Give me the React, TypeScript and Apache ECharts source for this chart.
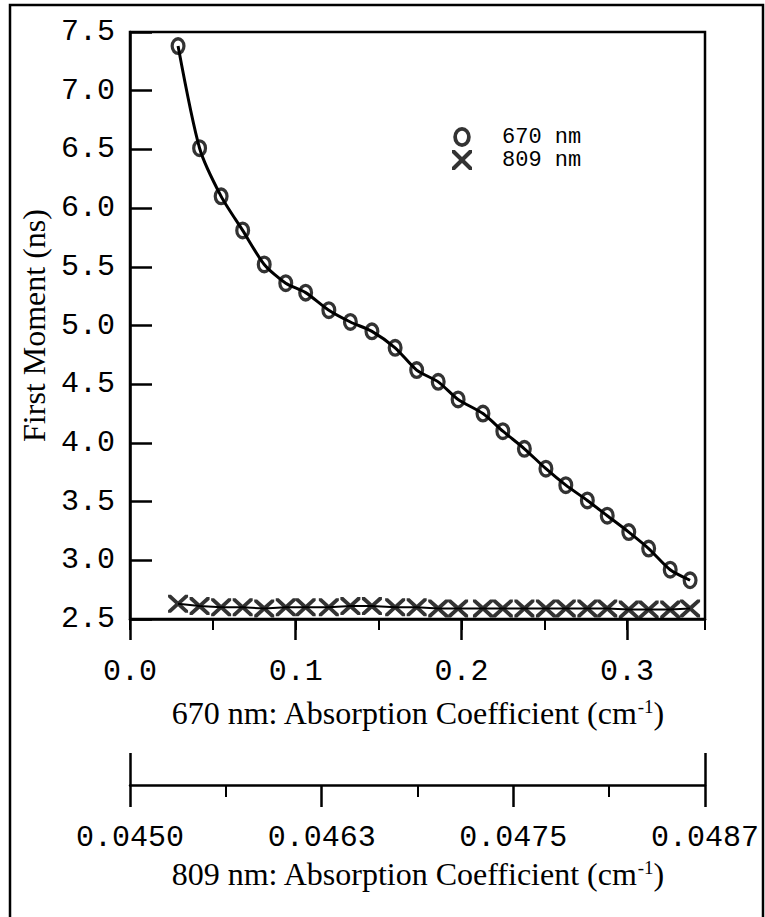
import React, { useEffect, useRef } from "react";
import * as echarts from "echarts";

// Absorption coefficient at 670 nm (cm^-1), shared by both series
const absorption670 = [
  0.029, 0.042, 0.055, 0.068, 0.081, 0.094, 0.106, 0.12, 0.133, 0.146, 0.16, 0.173, 0.186,
  0.198, 0.213, 0.225, 0.238, 0.251, 0.263, 0.276, 0.288, 0.301, 0.313, 0.326, 0.338,
];
// First moment (ns), 670 nm
const moment670 = [
  7.38, 6.51, 6.1, 5.81, 5.52, 5.36, 5.28, 5.13, 5.03, 4.95, 4.81, 4.62, 4.52, 4.37, 4.25,
  4.1, 3.95, 3.78, 3.64, 3.51, 3.38, 3.24, 3.1, 2.92, 2.83,
];
// First moment (ns), 809 nm
const moment809 = [
  2.63, 2.61, 2.6, 2.6, 2.59, 2.6, 2.6, 2.6, 2.61, 2.61, 2.6, 2.6, 2.59, 2.59, 2.59, 2.59,
  2.59, 2.59, 2.59, 2.59, 2.59, 2.58, 2.58, 2.58, 2.59,
];
const majorTicks670 = [0, 0.1, 0.2, 0.3];
const axis809Labels = ["0.0450", "0.0463", "0.0475", "0.0487"];
const legendNames = ["670 nm", "809 nm"];

const RING =
  "path://M0,8A7,8,0,1,1,14,8A7,8,0,1,1,0,8ZM3,8A4,5,0,1,0,11,8A4,5,0,1,0,3,8Z";
const CROSS =
  "path://M0,0L2.9,0L10,7.1L17.1,0L20,0L20,2.9L12.9,10L20,17.1L20,20L17.1,20L10,12.9L2.9,20L0,20L0,17.1L7.1,10L0,2.9Z";

const MONO = "'Liberation Mono', 'Courier New', monospace";
const SERIF = "'Liberation Serif', 'Times New Roman', serif";

export default function App() {
  const ref = useRef<HTMLDivElement>(null);

  useEffect(() => {
    if (!ref.current) return;
    const chart = echarts.init(ref.current, undefined, { renderer: "svg" });
    const pairs670 = absorption670.map((x, i) => [x, moment670[i]]);
    const pairs809 = absorption670.map((x, i) => [x, moment809[i]]);
    const black = "#000";

    const supRich = {
      sup: { fontFamily: SERIF, fontSize: 19, color: black, verticalAlign: "top" },
    };

    chart.setOption({
      animation: false,
      backgroundColor: "#fff",
      graphic: [
        {
          type: "rect",
          silent: true,
          z: -10,
          shape: { x: 10, y: 5, width: 753, height: 940 },
          style: { fill: "none", stroke: black, lineWidth: 2.5 },
        },
      ],
      grid: {
        left: 130,
        right: 60,
        top: 32,
        bottom: 298,
        show: true,
        borderColor: black,
        borderWidth: 2.5,
        backgroundColor: "transparent",
      },
      legend: {
        data: [
          { name: legendNames[0], icon: RING },
          { name: legendNames[1], icon: CROSS },
        ],
        orient: "vertical",
        left: 447,
        top: 121,
        itemWidth: 20,
        itemHeight: 20,
        itemGap: 1,
        selectedMode: false,
        itemStyle: { color: black, borderWidth: 0 },
        textStyle: {
          fontFamily: MONO,
          fontSize: 22,
          color: black,
          lineHeight: 21,
          padding: [0, 0, 0, 25],
        },
      },
      xAxis: [
        {
          type: "value",
          gridIndex: 0,
          position: "bottom",
          min: 0,
          max: 0.347,
          interval: 0.1,
          axisLine: { show: true, onZero: false, lineStyle: { color: black, width: 2.5 } },
          axisTick: {
            show: true,
            inside: false,
            length: 21,
            customValues: majorTicks670,
            lineStyle: { color: black, width: 2.5 },
          },
          axisLabel: {
            show: true,
            margin: 38,
            color: black,
            fontFamily: MONO,
            fontSize: 30,
            customValues: majorTicks670,
            formatter: (v: number) => v.toFixed(1),
          },
          splitLine: { show: false },
          name: "670 nm: Absorption Coefficient (cm{sup|-1})",
          nameLocation: "middle",
          nameGap: 78,
          nameTextStyle: { fontFamily: SERIF, fontSize: 32, color: black, rich: supRich },
        },
        {
          type: "value",
          gridIndex: 0,
          position: "bottom",
          min: 0,
          max: 0.347,
          interval: 0.05,
          axisLine: { show: false, onZero: false },
          axisTick: { show: true, inside: false, length: 11, lineStyle: { color: black, width: 2 } },
          axisLabel: { show: false },
          splitLine: { show: false },
        },
        {
          type: "value",
          gridIndex: 0,
          position: "bottom",
          offset: 166,
          min: 0,
          max: 3,
          interval: 1,
          axisLine: { show: true, onZero: false, lineStyle: { color: black, width: 2.5 } },
          axisTick: { show: true, inside: false, length: 22, lineStyle: { color: black, width: 2.5 } },
          minorTick: { show: true, splitNumber: 2, length: 12, lineStyle: { color: black, width: 2 } },
          axisLabel: {
            show: true,
            margin: 38,
            color: black,
            fontFamily: MONO,
            fontSize: 30,
            formatter: (v: number) => axis809Labels[Math.round(v)] ?? "",
          },
          splitLine: { show: false },
          minorSplitLine: { show: false },
          name: "809 nm: Absorption Coefficient (cm{sup|-1})",
          nameLocation: "middle",
          nameGap: 70,
          nameTextStyle: { fontFamily: SERIF, fontSize: 32, color: black, rich: supRich },
        },
        {
          type: "value",
          gridIndex: 0,
          position: "bottom",
          offset: 166,
          min: 0,
          max: 3,
          interval: 3,
          axisLine: { show: false, onZero: false },
          axisTick: { show: true, inside: true, length: 32, lineStyle: { color: black, width: 2.5 } },
          axisLabel: { show: false },
          splitLine: { show: false },
        },
      ],
      yAxis: {
        type: "value",
        min: 2.5,
        max: 7.5,
        interval: 0.5,
        axisLine: { show: true, onZero: false, lineStyle: { color: black, width: 2.5 } },
        axisTick: { show: true, inside: true, length: 22, lineStyle: { color: black, width: 2.5 } },
        axisLabel: {
          color: black,
          fontFamily: MONO,
          fontSize: 30,
          margin: 15,
          formatter: (v: number) => v.toFixed(1),
        },
        splitLine: { show: false },
        name: "First Moment (ns)",
        nameLocation: "middle",
        nameGap: 78,
        nameTextStyle: { fontFamily: SERIF, fontSize: 32, color: black },
      },
      series: [
        {
          name: legendNames[0],
          type: "scatter",
          xAxisIndex: 0,
          data: pairs670,
          symbol: RING,
          symbolSize: [15, 18],
          itemStyle: { color: black },
          z: 3,
        },
        {
          name: "670 fit",
          type: "line",
          xAxisIndex: 0,
          data: pairs670,
          showSymbol: false,
          symbol: "none",
          smooth: 0.25,
          lineStyle: { color: black, width: 3 },
          z: 4,
        },
        {
          name: legendNames[1],
          type: "scatter",
          xAxisIndex: 0,
          data: pairs809,
          symbol: CROSS,
          symbolSize: [20, 18],
          itemStyle: { color: black },
          z: 3,
        },
        {
          name: "809 fit",
          type: "line",
          xAxisIndex: 0,
          data: pairs809,
          showSymbol: false,
          symbol: "none",
          lineStyle: { color: black, width: 2 },
          z: 4,
        },
      ],
    });

    return () => {
      chart.dispose();
    };
  }, []);

  return (
    <div
      ref={ref}
      style={{ position: "fixed", left: 0, top: 0, width: 765, height: 917, background: "#fff" }}
    />
  );
}
